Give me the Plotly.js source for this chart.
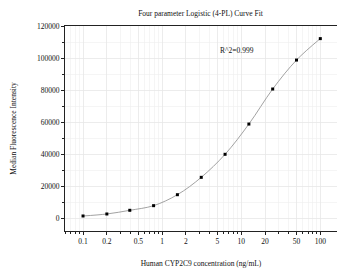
<!DOCTYPE html>
<html>
<head>
<meta charset="utf-8">
<script src="https://cdn.plot.ly/plotly-3.0.1.min.js"></script>
<style>html,body{margin:0;padding:0;background:#fff;}#chart{width:337px;height:271px;}</style>
</head>
<body>
<div id="chart"></div>
<script>
const concentration = [0.1, 0.2, 0.39, 0.78, 1.56, 3.125, 6.25, 12.5, 25, 50, 100];
const mfi = [1450, 2700, 5000, 7900, 14750, 25600, 40000, 58900, 80800, 98900, 112300];
const tickValues = [0.1, 0.2, 0.5, 1, 2, 5, 10, 20, 50, 100];
const tickLabels = ['0.1', '0.2', '0.5', '1', '2', '5', '10', '20', '50', '100'];
const rSquaredText = 'R^2=0.999';

const minorVals = [];
[0.01, 0.1, 1, 10, 100].forEach(d => { for (let k = 1; k <= 9; k++) minorVals.push(+(d * k).toPrecision(3)); });

const font = 'Liberation Serif, Times New Roman, serif';
const traces = [
  {x: concentration, y: mfi, mode: 'lines', line: {color: '#8a8a8a', width: 0.8, shape: 'spline', smoothing: 1}, hoverinfo: 'skip'},
  {x: concentration, y: mfi, mode: 'markers', marker: {color: '#000', size: 3, symbol: 'square'}}
];
const layout = {
  width: 337, height: 271,
  margin: {l: 65, r: 0, t: 26, b: 40},
  paper_bgcolor: '#fff', plot_bgcolor: '#fff',
  showlegend: false,
  font: {family: font, color: '#111', size: 8},
  title: {text: 'Four parameter Logistic (4-PL) Curve Fit', font: {family: font, size: 7.5, color: '#111'}, x: 0.595, xanchor: 'center', y: 0.952, yanchor: 'middle'},
  xaxis: {
    type: 'log', range: [-1.228, 2.211],
    tickmode: 'array', tickvals: tickValues, ticktext: tickLabels,
    ticks: 'outside', ticklen: 3, tickcolor: '#222', tickwidth: 1,
    showline: true, linecolor: '#222', linewidth: 1, mirror: true,
    showgrid: true, gridcolor: '#e6e6e6', gridwidth: 0.6,
    zeroline: false,
    tickfont: {family: font, size: 7.5, color: '#111'},
    minor: {tickmode: 'array', tickvals: minorVals, ticks: 'outside', ticklen: 2, tickcolor: '#222', showgrid: true, gridcolor: '#eeeeee', gridwidth: 0.6},
    title: {text: 'Human CYP2C9 concentration (ng/mL)', font: {family: font, size: 7.5, color: '#111'}, standoff: 15}
  },
  yaxis: {
    range: [-7940, 120190],
    tickmode: 'array', tickvals: [0, 20000, 40000, 60000, 80000, 100000, 120000],
    ticktext: ['0', '20000', '40000', '60000', '80000', '100000', '120000'],
    ticks: 'outside', ticklen: 3, tickcolor: '#222',
    showline: true, linecolor: '#222', linewidth: 1,
    showgrid: true, gridcolor: '#e6e6e6', gridwidth: 0.6,
    zeroline: false,
    tickfont: {family: font, size: 7.5, color: '#111'},
    minor: {dtick: 10000, ticks: 'outside', ticklen: 2, tickcolor: '#222', showgrid: true, gridcolor: '#eeeeee', gridwidth: 0.6},
    title: {text: 'Median Fluorescence Intensity', font: {family: font, size: 7.5, color: '#111'}, standoff: 19}
  },
  annotations: [{text: rSquaredText, xref: 'paper', yref: 'paper', x: 0.702, y: 0.912, showarrow: false, font: {family: font, size: 7.5, color: '#111'}}]
};
Plotly.newPlot('chart', traces, layout, {displayModeBar: false, staticPlot: true});
</script>
</body>
</html>
